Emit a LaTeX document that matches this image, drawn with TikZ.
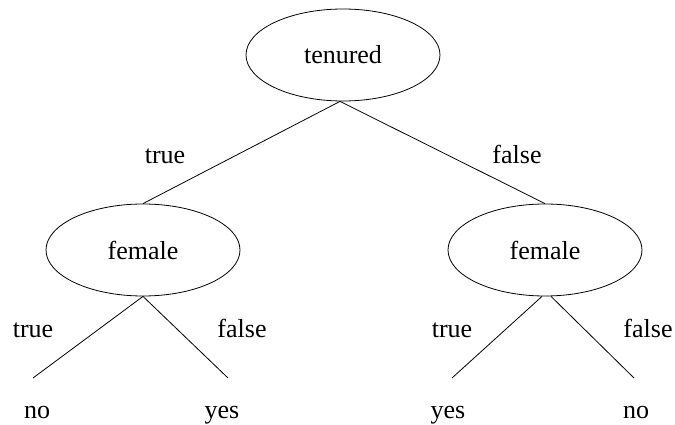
\documentclass[tikz,border=0pt]{standalone}
\usepackage{fontspec}
\setmainfont{Liberation Serif}
\usetikzlibrary{shapes.geometric}
\begin{document}
\begin{tikzpicture}[x=1pt,y=-1pt,
  every node/.style={font=\fontsize{26}{30}\selectfont},
  decision/.style={draw, ellipse, line width=0.8pt, minimum width=194pt, minimum height=92pt, inner sep=0pt},
  leaf/.style={inner sep=0pt, anchor=base},
  lbl/.style={inner sep=0pt, anchor=base},
  edge/.style={line width=0.8pt}]
\useasboundingbox (0,0) rectangle (675,425);
\node[decision] (t) at (343,55) {tenured};
\node[decision] (fl) at (143,250) {female};
\node[decision] (fr) at (545,250) {female};
\coordinate (l1) at (33,378);
\coordinate (l2) at (228,378);
\coordinate (l3) at (452,378);
\coordinate (l4) at (634,378);
\node[leaf] (n1) at (37,418) {no};
\node[leaf] (n2) at (222,418) {yes};
\node[leaf] (n3) at (448,418) {yes};
\node[leaf] (n4) at (636,418) {no};
\draw[edge] ([xshift=-3pt]t.south) -- (fl.north);
\draw[edge] ([xshift=-3pt]t.south) -- (fr.north);
\draw[edge] (fl.south) -- (l1);
\draw[edge] (fl.south) -- (l2);
\draw[edge] ([xshift=-3pt]fr.south) -- (l3);
\draw[edge] ([xshift=6pt]fr.south) -- (l4);
\node[lbl] at (165,164) {true};
\node[lbl] at (517,164) {false};
\node[lbl] at (33,337) {true};
\node[lbl] at (242,337) {false};
\node[lbl] at (452,337) {true};
\node[lbl] at (648,337) {false};
\end{tikzpicture}
\end{document}
